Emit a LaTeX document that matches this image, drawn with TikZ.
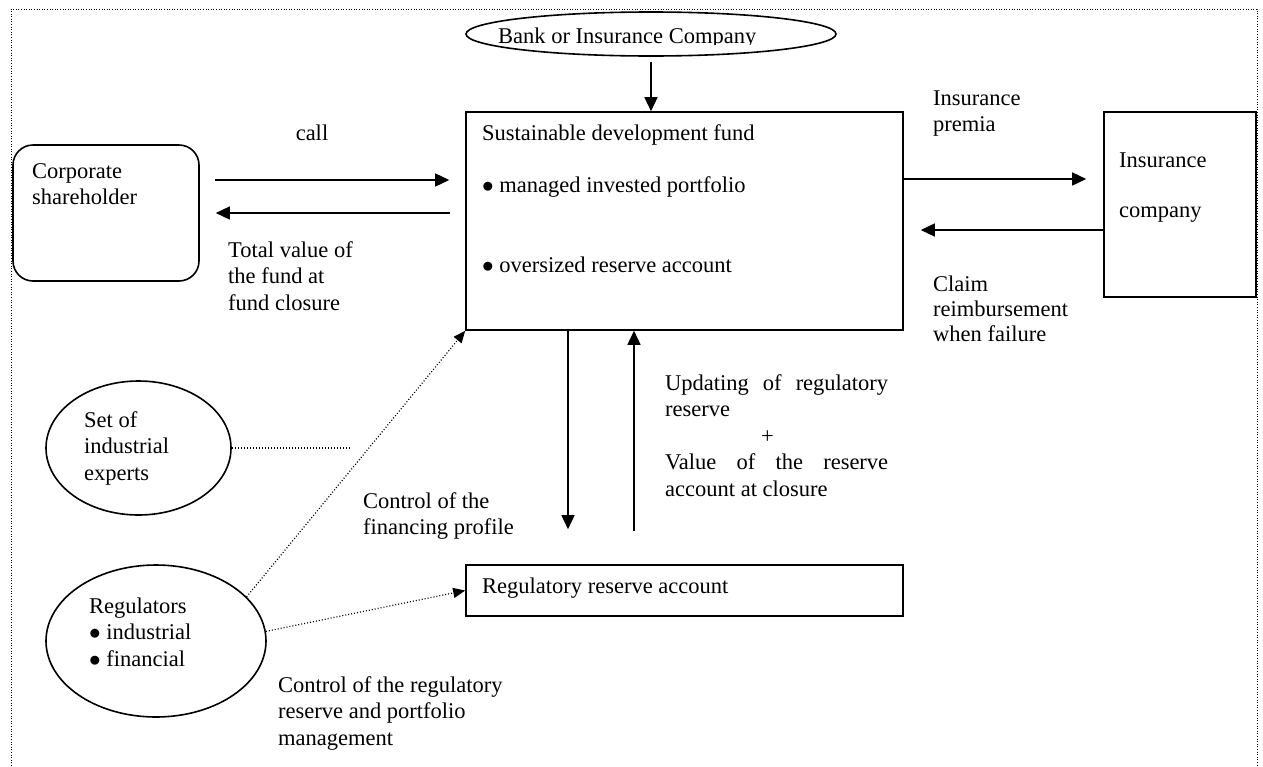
\documentclass[tikz,border=0pt]{standalone}
\usepackage{fontspec}
\setmainfont{Liberation Serif}
\usepackage{graphicx}
\usetikzlibrary{arrows.meta,shapes.geometric,positioning}
\newcommand{\dotmark}{\scalebox{1.12}{$\bullet$}}
\newcommand{\textlines}[1]{\begin{tabular}[t]{@{}l@{}}#1\end{tabular}}

\begin{document}
\begin{tikzpicture}[x=1pt, y=-1pt,
    font=\fontsize{22.5}{26.5}\selectfont,
    box/.style={draw, line width=1.6pt, rectangle, inner sep=0pt},
    oval/.style={draw, ellipse, line width=1.6pt, inner sep=0pt},
    txt/.style={anchor=base west, inner sep=0pt},
    flow/.style={line width=1.5pt, -{Triangle[length=14pt,width=13pt]}},
    dots/.style={line width=1.2pt, dash pattern=on 1pt off 2pt},
    ctrl/.style={dots, -{Triangle[length=12pt,width=10pt]}},
    frame/.style={line width=0.9pt, dash pattern=on 1pt off 1.6pt}
]
\useasboundingbox (0,0) rectangle (1263,766);
% open frame round the page
\draw[frame] (11,766) -- (11,9) -- (1257,9) -- (1257,766);

% boxes and ovals
\node[oval, minimum width=370pt, minimum height=44pt] (bank) at (651,34) {};
\node[box, minimum width=437pt, minimum height=218pt] (fund) at (684.5,221) {};
\node[box, rounded corners=20pt, minimum width=186pt, minimum height=136pt] (holder) at (106,213) {};
\node[box, minimum width=152pt, minimum height=185pt] (insurer) at (1180,204.5) {};
\node[box, minimum width=437pt, minimum height=51pt] (reserve) at (684.5,590.5) {};
\node[oval, minimum width=185pt, minimum height=134pt] (experts) at (138.5,448) {};
\node[oval, minimum width=220pt, minimum height=152pt] (regulators) at (156,641) {};

% texts
\begin{scope}
\clip (0,0) rectangle (1263,44.5);
\node[txt] (banktxt) at (498,43.5) {Bank or Insurance Company};
\end{scope}
\node[txt] (fundtxt) at (482,140) {\textlines{Sustainable development fund\\[25.5pt]\dotmark{} managed invested portfolio\\[53.5pt]\dotmark{} oversized reserve account}};
\node[txt] (holdertxt) at (32,178) {\textlines{Corporate\\shareholder}};
\node[anchor=base, inner sep=0pt] (calltxt) at (312,140) {call};
\node[txt] (totaltxt) at (228,257) {\textlines{Total value of\\the fund at\\fund closure}};
\node[txt] (premtxt) at (933,105) {\textlines{Insurance\\premia}};
\node[txt] (insurertxt) at (1119,167) {\textlines{Insurance\\[23.5pt]company}};
\begin{scope}
\clip (0,0) rectangle (1263,341);
\node[txt, font=\fontsize{22.5}{25.3}\selectfont] (claimtxt) at (933,291) {\textlines{Claim\\reimbursement\\when failure}};
\end{scope}
\node[txt] (updtxt) at (665,390) {\textlines{\makebox[223pt][s]{Updating of regulatory}\\reserve\\\hspace*{96pt}+\\\makebox[223pt][s]{Value of the reserve}\\account at closure}};
\node[txt] (reservetxt) at (482,593) {Regulatory reserve account};
\node[txt] (financetxt) at (363,508) {\textlines{Control of the\\financing profile}};
\node[txt] (expertstxt) at (84,427) {\textlines{Set of\\industrial\\experts}};
\node[txt] (regtxt) at (89,613) {\textlines{Regulators\\\dotmark{} industrial\\\dotmark{} financial}};
\node[txt] (controltxt) at (278,692) {\textlines{Control of the regulatory\\reserve and portfolio\\management}};

% rows and columns of the arrows
\coordinate (rowcall) at (0,180);
\coordinate (rowback) at (0,213);
\coordinate (rowprem) at (0,179);
\coordinate (rowclaim) at (0,230);
\coordinate (coldown) at (568,0);
\coordinate (colup) at (634,0);
\coordinate (expend) at (349,448);

% flows
\draw[flow, shorten <=5pt] (bank.south) -- (bank.south |- fund.north);
\draw[flow, shorten <=15pt, shorten >=16pt] (holder.east |- rowcall) -- (fund.west |- rowcall);
\draw[flow, shorten <=15pt, shorten >=16pt] (fund.west |- rowback) -- (holder.east |- rowback);
\draw[flow, shorten >=17pt] (fund.east |- rowprem) -- (insurer.west |- rowprem);
\draw[flow, shorten >=17pt] (insurer.west |- rowclaim) -- (fund.east |- rowclaim);
\draw[flow, shorten >=35pt] (coldown |- fund.south) -- (coldown |- reserve.north);
\draw[flow, shorten <=33pt] (colup |- reserve.north) -- (colup |- fund.south);

% controls
\draw[dots] (experts.east) -- (expend);
\draw[ctrl] (regulators.26) -- (fund.south west);
\draw[ctrl] (regulators.5) -- (reserve.west);
\end{tikzpicture}
\end{document}
